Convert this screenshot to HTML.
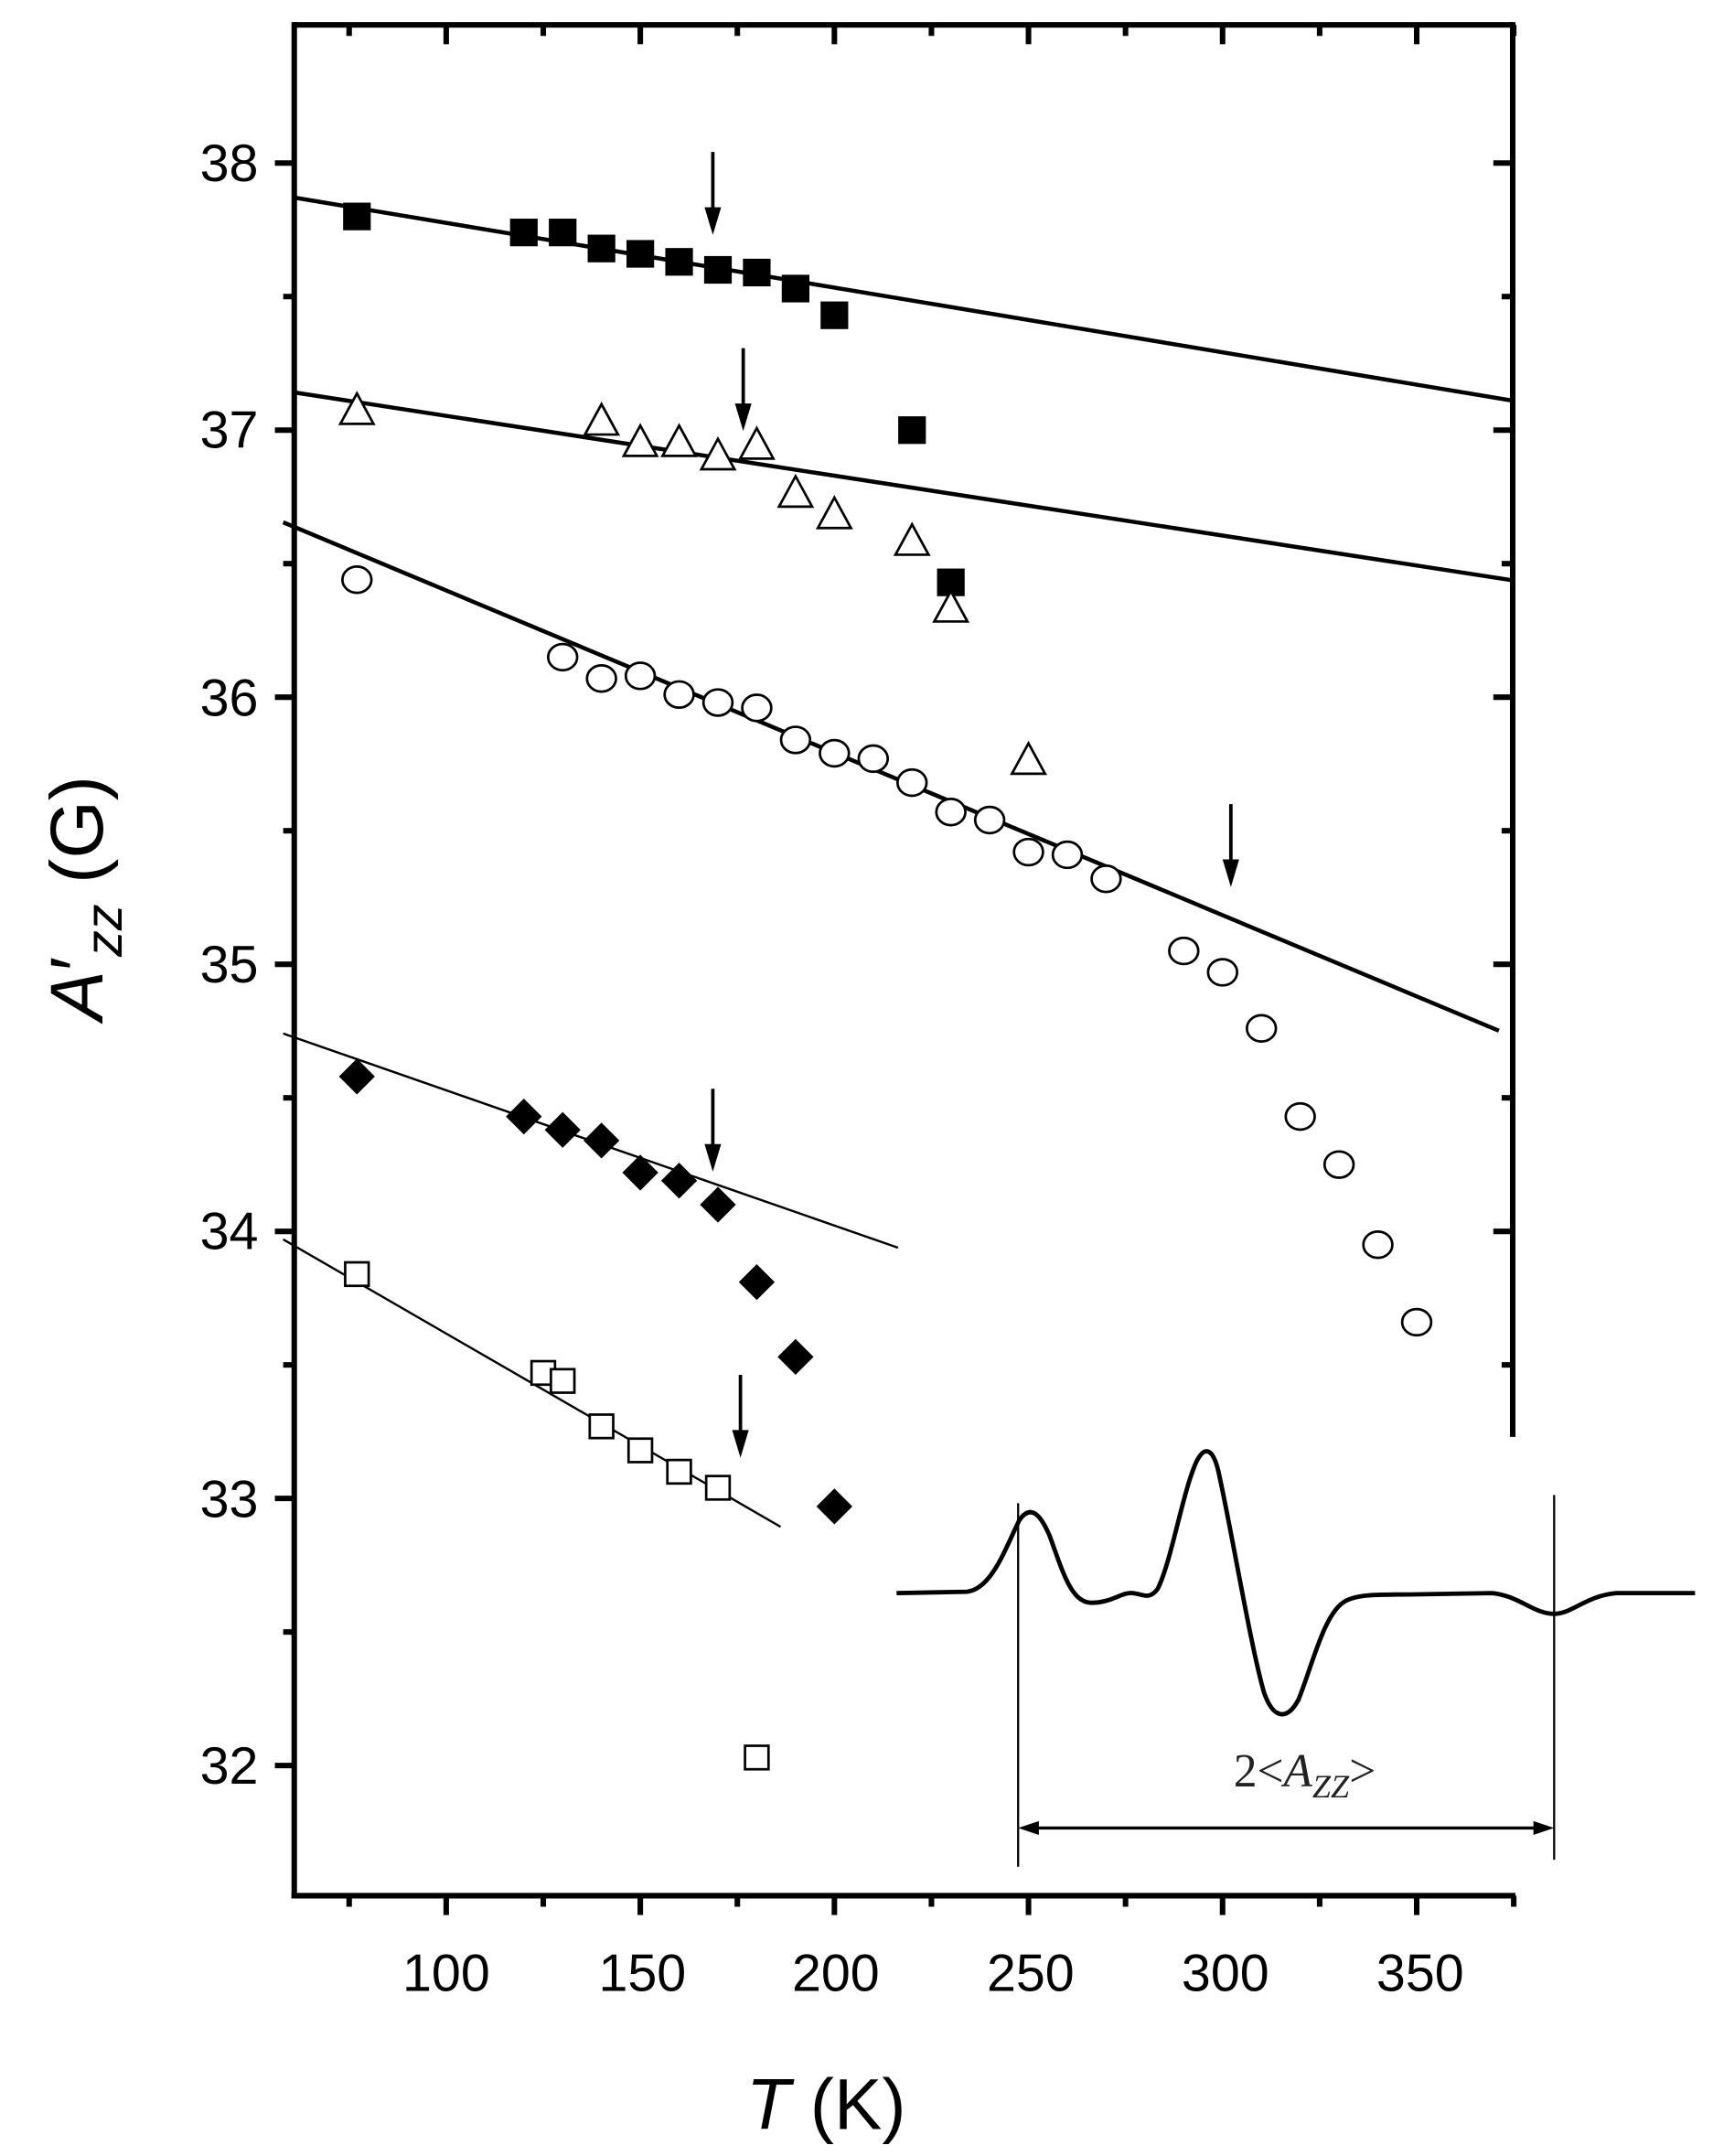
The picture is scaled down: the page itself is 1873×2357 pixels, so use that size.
<!DOCTYPE html>
<html><head><meta charset="utf-8"><style>
html,body{margin:0;padding:0;background:#fff}
svg{display:block}
</style></head><body>
<svg id="s" width="1873" height="2357" viewBox="0 0 1240 1560.4" preserveAspectRatio="none" xmlns="http://www.w3.org/2000/svg">
<g id="axes" stroke="#000" fill="none">
<line x1="213" y1="18" x2="1095" y2="18" stroke-width="4"/>
<line x1="213" y1="16" x2="213" y2="1374" stroke-width="4"/>
<line x1="211" y1="1372" x2="1097" y2="1372" stroke-width="4"/>
<line x1="1095" y1="16" x2="1095" y2="1040" stroke-width="4"/>
</g>
<g id="ticks" stroke="#000" stroke-width="4"></g>
<g font-family="Liberation Sans, Arial, sans-serif" font-size="38" fill="#000" text-anchor="end">
<text x="187" y="131">38</text><text x="187" y="324">37</text><text x="187" y="518">36</text>
<text x="187" y="711">35</text><text x="187" y="904">34</text><text x="187" y="1098">33</text><text x="187" y="1291">32</text>
</g>
<g font-family="Liberation Sans, Arial, sans-serif" font-size="38" fill="#000" text-anchor="middle">
<text x="323" y="1441">100</text><text x="465" y="1441">150</text><text x="605" y="1441">200</text>
<text x="746" y="1441">250</text><text x="887" y="1441">300</text><text x="1028" y="1441">350</text>
</g>
<text x="598" y="1541" font-family="Liberation Sans, Arial, sans-serif" font-size="52" text-anchor="middle"><tspan font-style="italic">T</tspan> (K)</text>
<text transform="translate(74,650) rotate(-90)" font-family="Liberation Sans, Arial, sans-serif" font-size="54" text-anchor="middle"><tspan font-style="italic">A</tspan>′<tspan font-style="italic" font-size="38" dy="14">zz</tspan><tspan dy="-14">  (G)</tspan></text>
<g stroke="#000" fill="none">
<line x1="213" y1="143" x2="1095" y2="290" stroke-width="3"/>
<line x1="213" y1="284" x2="1095" y2="420" stroke-width="3"/>
<line x1="205" y1="378" x2="1085" y2="746" stroke-width="3"/>
<line x1="205" y1="748" x2="650" y2="903" stroke-width="1.6"/>
<line x1="205" y1="897" x2="565" y2="1105" stroke-width="1.6"/>
</g>
<g id="pts"></g>
<g id="arr"></g>
<g stroke="#000" fill="none">
<path d="M649,1153 L700,1152 C718,1150 728,1120 738,1100 C745,1090 752,1093 760,1112 C770,1140 776,1160 790,1160 C805,1160 812,1152 820,1153 C828,1154 832,1158 838,1150 C848,1130 856,1080 866,1058 C872,1046 878,1048 882,1065 C892,1110 905,1190 915,1225 C922,1245 932,1245 940,1230 C950,1205 958,1170 972,1160 C980,1154 995,1154 1020,1154 L1080,1153 C1100,1155 1110,1168 1125,1168 C1138,1168 1148,1155 1170,1153 L1227,1153" stroke-width="3.2"/>
<line x1="737" y1="1088" x2="737" y2="1351" stroke-width="1.5"/>
<line x1="1125" y1="1082" x2="1125" y2="1346" stroke-width="1.5"/>
<line x1="748" y1="1323" x2="1114" y2="1323" stroke-width="2.2"/>
</g>
<polygon points="737,1323 752,1318 752,1328" fill="#000"/>
<polygon points="1125,1323 1110,1318 1110,1328" fill="#000"/>
<text x="893" y="1293" font-family="Liberation Serif, serif" font-size="34" fill="#222">2&lt;<tspan font-style="italic">A</tspan><tspan font-size="24" dy="8" font-style="italic">ZZ</tspan><tspan dy="-8">&gt;</tspan></text>
</svg>
<script>
var NS="http://www.w3.org/2000/svg";
function X(t){return 323+(t-100)*2.81}
function Y(v){return 118+(38-v)*193.3}
function el(p,n,a){var e=document.createElementNS(NS,n);for(var k in a)e.setAttribute(k,a[k]);p.appendChild(e);return e}
var T=document.getElementById('ticks');
for(var t=75;t<=375;t+=25){var m=(t%50==0);var x=X(t);
 el(T,'line',{x1:x,y1:1372,x2:x,y2:1372+(m?14:8)});
 el(T,'line',{x1:x,y1:18,x2:x,y2:18+(m?14:8)});}
for(var v=32;v<=38.01;v+=0.5){var m=(Math.abs(v-Math.round(v))<0.01);var y=Y(v);
 el(T,'line',{x1:213,y1:y,x2:213-(m?14:8),y2:y});
 if(y<1040) el(T,'line',{x1:1095,y1:y,x2:1095-(m?14:8),y2:y});}
var P=document.getElementById('pts');
var fs=[[77,37.80],[120,37.74],[130,37.74],[140,37.68],[150,37.66],[160,37.63],[170,37.60],[180,37.59],[190,37.53],[200,37.43],[220,37.00],[230,36.43]];
fs.forEach(function(d){el(P,'rect',{x:X(d[0])-10,y:Y(d[1])-10,width:20,height:20,fill:'#000'})});
var tr=[[77,37.07],[140,37.03],[150,36.95],[160,36.95],[170,36.90],[180,36.94],[190,36.76],[200,36.68],[220,36.58],[230,36.33],[250,35.76]];
tr.forEach(function(d){var x=X(d[0]),y=Y(d[1]);el(P,'polygon',{points:(x-12)+','+(y+9)+' '+x+','+(y-13)+' '+(x+12)+','+(y+9),fill:'#fff',stroke:'#000','stroke-width':1.8})});
var ci=[[77,36.44],[130,36.15],[140,36.07],[150,36.08],[160,36.01],[170,35.98],[180,35.96],[190,35.84],[200,35.79],[210,35.77],[220,35.68],[230,35.57],[240,35.54],[250,35.42],[260,35.41],[270,35.32],[290,35.05],[300,34.97],[310,34.76],[320,34.43],[330,34.25],[340,33.95],[350,33.66]];
ci.forEach(function(d){el(P,'ellipse',{cx:X(d[0]),cy:Y(d[1]),rx:10.5,ry:9.5,fill:'#fff',stroke:'#000','stroke-width':1.8})});
var di=[[77,34.58],[120,34.43],[130,34.38],[140,34.34],[150,34.22],[160,34.19],[170,34.10],[180,33.81],[190,33.53],[200,32.97]];
di.forEach(function(d){var x=X(d[0]),y=Y(d[1]);el(P,'polygon',{points:(x-13)+','+y+' '+x+','+(y-13)+' '+(x+13)+','+y+' '+x+','+(y+13),fill:'#000'})});
var os=[[77,33.84],[125,33.47],[130,33.44],[140,33.27],[150,33.18],[160,33.10],[170,33.04],[180,32.03]];
os.forEach(function(d){el(P,'rect',{x:X(d[0])-8.5,y:Y(d[1])-8.5,width:17,height:17,fill:'#fff',stroke:'#000','stroke-width':1.8})});
var A=document.getElementById('arr');
[[516,110],[538,252],[891,582],[516,788],[536,995]].forEach(function(a){var x=a[0],y=a[1];
 el(A,'line',{x1:x,y1:y,x2:x,y2:y+45,stroke:'#000','stroke-width':2.5});
 el(A,'polygon',{points:(x-6)+','+(y+40)+' '+(x+6)+','+(y+40)+' '+x+','+(y+60),fill:'#000'});});
</script>
</body></html>
